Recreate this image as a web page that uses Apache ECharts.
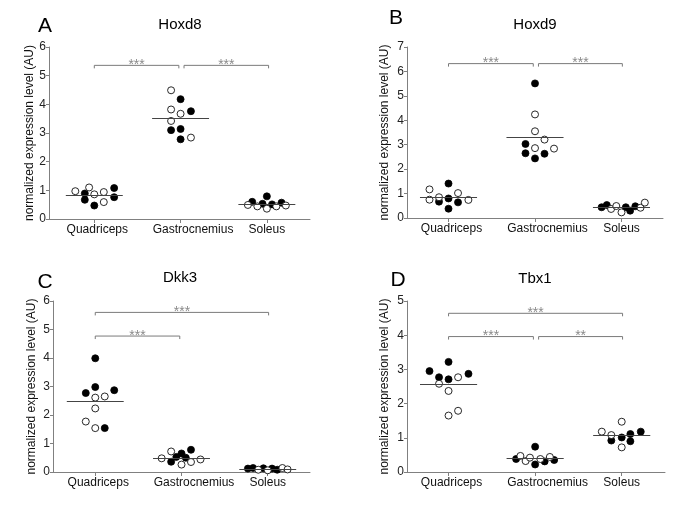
<html>
<head>
<meta charset="utf-8">
<title>expression levels</title>
<script src="https://cdn.jsdelivr.net/npm/echarts@6/dist/echarts.min.js"></script>
<style>
    * { margin: 0; padding: 0; }
    body { background: #fff; }
    #main { width: 685px; height: 506px; }
</style>
</head>
<body>
<div id="main"></div>
<script type="text/javascript">
// muscles on the x axis (0, 1, 2); points carry their small sideways jitter
var muscles = ['Quadriceps', 'Gastrocnemius', 'Soleus'];
var genes = ['Hoxd8', 'Hoxd9', 'Dkk3', 'Tbx1'];
var letters = ['A', 'B', 'C', 'D'];
var yMax = [6, 7, 6, 5];

// Hoxd8
var hoxd8Filled = [[-0.11,0.89],[-0.11,0.67],[0,0.47],[0.23,1.08],[0.23,0.76],
    [1,4.18],[1.12,3.76],[0.89,3.10],[1,3.14],[1,2.78],
    [1.83,0.60],[1.95,0.53],[2,0.79],[2.06,0.51],[2.17,0.57]];
var hoxd8Open = [[-0.22,0.97],[-0.06,1.10],[0,0.86],[0.11,0.94],[0.11,0.59],
    [0.89,4.49],[0.89,3.82],[1,3.67],[0.89,3.42],[1.12,2.84],
    [1.78,0.49],[1.89,0.44],[2,0.36],[2.11,0.44],[2.22,0.47]];
var hoxd8Means = [0.83, 3.52, 0.52];
var hoxd8Brackets = [[0, 0.98, 5.36, '***'], [1.04, 2.02, 5.36, '***']];

// Hoxd9
var hoxd9Filled = [[-0.11,0.67],[0,1.41],[0,0.80],[0,0.38],[0.11,0.64],
    [1,5.51],[0.89,3.03],[0.89,2.65],[1.11,2.63],[1,2.44],
    [1.77,0.44],[1.83,0.53],[2.05,0.44],[2.10,0.30],[2.16,0.48]];
var hoxd9Open = [[-0.22,1.17],[-0.22,0.75],[-0.11,0.85],[0.11,1.02],[0.23,0.74],
    [1,4.24],[1,3.55],[1.11,3.21],[1,2.86],[1.22,2.84],
    [1.88,0.37],[1.94,0.49],[2,0.23],[2.22,0.42],[2.27,0.63]];
var hoxd9Means = [0.85, 3.30, 0.42];
var hoxd9Brackets = [[0, 0.98, 6.32, '***'], [1.04, 2.01, 6.32, '***']];

// Dkk3
var dkk3Filled = [[0,3.99],[0,2.98],[-0.11,2.77],[0.22,2.87],[0.11,1.54],
    [0.88,0.36],[0.94,0.53],[1,0.65],[1.05,0.50],[1.11,0.78],
    [1.77,0.12],[1.83,0.14],[1.95,0.13],[2.05,0.12],[2.11,0.08]];
var dkk3Open = [[0,2.61],[0.11,2.65],[0,2.23],[-0.11,1.77],[0,1.54],
    [0.77,0.48],[0.88,0.72],[1,0.26],[1.11,0.35],[1.22,0.44],
    [1.89,0.08],[2,0.06],[2.17,0.14],[2.23,0.09]];
var dkk3Means = [2.49, 0.50, 0.10];
var dkk3Brackets = [[0, 2.01, 5.60, '***'], [0, 0.98, 4.77, '***']];

// Tbx1
var tbx1Filled = [[-0.22,2.95],[-0.11,2.77],[0,3.22],[0,2.71],[0.23,2.87],
    [0.78,0.38],[1,0.74],[1,0.22],[1.11,0.31],[1.22,0.35],
    [1.88,0.92],[2,1.01],[2.10,1.11],[2.10,0.90],[2.22,1.18]];
var tbx1Open = [[-0.11,2.58],[0.11,2.77],[0,2.37],[0,1.65],[0.11,1.79],
    [0.83,0.47],[0.89,0.32],[0.94,0.42],[1.06,0.38],[1.17,0.44],
    [1.77,1.18],[1.88,1.08],[2,1.47],[2,0.72]];
var tbx1Means = [2.56, 0.40, 1.07];
var tbx1Brackets = [[0, 2.01, 4.64, '***'], [0, 0.98, 3.96, '***'], [1.04, 2.01, 3.96, '**']];

var filled = [hoxd8Filled, hoxd9Filled, dkk3Filled, tbx1Filled];
var open = [hoxd8Open, hoxd9Open, dkk3Open, tbx1Open];
var means = [hoxd8Means, hoxd9Means, dkk3Means, tbx1Means];
var brackets = [hoxd8Brackets, hoxd9Brackets, dkk3Brackets, tbx1Brackets];

var grids = [
    {left: 49, top: 47, width: 261, height: 172},
    {left: 407, top: 47, width: 256, height: 171},
    {left: 53, top: 301, width: 257, height: 171},
    {left: 407, top: 301, width: 258, height: 171}
];
var xRange = [[-0.525, 2.5], [-0.48, 2.48], [-0.49, 2.49], [-0.48, 2.5]];
var nameGaps = [13, 16, 15, 16];
var letterPos = [[45, 26], [396, 18], [45, 282], [398, 280]];
var titlePos = [[180, 25], [535, 25], [180, 278], [535, 279]];

var axisGrey = '#808080';
var textFont = 'Liberation Sans';

var myChart = echarts.init(document.getElementById('main'));

function bracketRenderer(list) {
    return function (params, api) {
        var b = list[params.dataIndex];
        var p1 = api.coord([b[0], b[2]]);
        var p2 = api.coord([b[1], b[2]]);
        return {
            type: 'group',
            children: [
                {
                    type: 'polyline',
                    shape: {points: [[p1[0], p1[1] + 3], [p1[0], p1[1]], [p2[0], p2[1]], [p2[0], p2[1] + 3]]},
                    style: {stroke: '#7a7a7a', fill: null, lineWidth: 1}
                },
                {
                    type: 'text',
                    x: (p1[0] + p2[0]) / 2,
                    y: p1[1] + 7,
                    style: {text: b[3], textAlign: 'center', textVerticalAlign: 'bottom',
                        fill: '#8a8a8a', font: '14px ' + textFont}
                }
            ]
        };
    };
}

var xAxes = [], yAxes = [], series = [], graphics = [];
for (var i = 0; i < 4; i++) {
    xAxes.push({
        type: 'value', gridIndex: i, min: xRange[i][0], max: xRange[i][1],
        splitLine: {show: false},
        axisLine: {onZero: false, lineStyle: {color: axisGrey, width: 1}},
        axisTick: {customValues: [0, 1, 2], length: 4, lineStyle: {color: axisGrey}},
        axisLabel: {
            customValues: [0, 1, 2], margin: 5, color: '#111', fontSize: 12, fontFamily: textFont,
            formatter: function (v) {
                var k = Math.round(v);
                if (k == 1) return '{g|' + muscles[1] + '}';
                if (k == 0) return '{q|' + muscles[0] + '}';
                return muscles[k];
            },
            rich: {
                g: {padding: [0, 0, 0, 25], fontSize: 12, fontFamily: textFont, color: '#111'},
                q: {padding: [0, 0, 0, 6], fontSize: 12, fontFamily: textFont, color: '#111'}
            }
        }
    });
    yAxes.push({
        type: 'value', gridIndex: i, min: 0, max: yMax[i], interval: 1,
        name: 'normalized expression level (AU)', nameLocation: 'middle', nameGap: nameGaps[i],
        nameRotate: 90,
        nameTextStyle: {color: '#111', fontSize: 12, fontFamily: textFont},
        splitLine: {show: false},
        axisLine: {show: true, onZero: false, lineStyle: {color: axisGrey, width: 1}},
        axisTick: {show: true, length: 3, lineStyle: {color: axisGrey}},
        axisLabel: {margin: 3, color: '#222', fontSize: 12, fontFamily: textFont}
    });
    series.push({
        type: 'scatter', xAxisIndex: i, yAxisIndex: i, data: filled[i],
        symbolSize: 7, itemStyle: {color: '#000', borderColor: '#000', borderWidth: 0.8, opacity: 1},
        clip: false, z: 3
    });
    series.push({
        type: 'scatter', xAxisIndex: i, yAxisIndex: i, data: open[i],
        symbolSize: 7, itemStyle: {color: '#fff', borderColor: '#111', borderWidth: 0.9, opacity: 1},
        clip: false, z: 3
    });
    // mean bars
    var meanLines = [];
    for (var k = 0; k < 3; k++) {
        meanLines.push([{coord: [k - 0.33, means[i][k]]}, {coord: [k + 0.33, means[i][k]]}]);
    }
    series.push({
        type: 'line', xAxisIndex: i, yAxisIndex: i, data: [], z: 2,
        markLine: {
            silent: true, symbol: 'none', label: {show: false},
            lineStyle: {color: '#444', type: 'solid', width: 1},
            data: meanLines
        }
    });
    series.push({
        type: 'custom', xAxisIndex: i, yAxisIndex: i, silent: true,
        data: brackets[i].map(function (b) { return [b[0], b[1], b[2]]; }),
        encode: {x: [0, 1], y: 2},
        renderItem: bracketRenderer(brackets[i]),
        clip: false
    });
    graphics.push({
        type: 'text', x: letterPos[i][0], y: letterPos[i][1],
        style: {text: letters[i], textAlign: 'center', textVerticalAlign: 'middle',
            fill: '#000', font: '21px ' + textFont}
    });
    graphics.push({
        type: 'text', x: titlePos[i][0], y: titlePos[i][1],
        style: {text: genes[i], textAlign: 'center', textVerticalAlign: 'middle',
            fill: '#000', font: '15px ' + textFont}
    });
}

var option = {
    backgroundColor: '#fff',
    animation: false,
    grid: grids,
    xAxis: xAxes,
    yAxis: yAxes,
    series: series,
    graphic: graphics
};
myChart.setOption(option);
</script>
</body>
</html>
